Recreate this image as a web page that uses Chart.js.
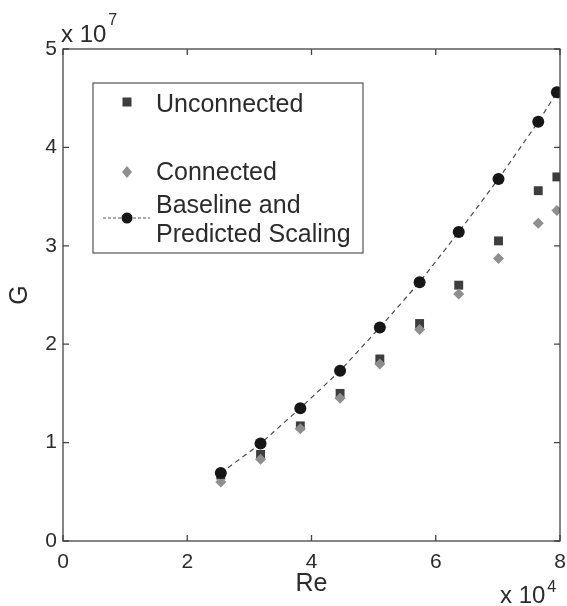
<!DOCTYPE html>
<html><head><meta charset="utf-8">
<script src="https://cdn.jsdelivr.net/npm/chart.js@4.4.1/dist/chart.umd.min.js"></script>
<style>html,body{margin:0;padding:0;background:#fff}#wrap{width:567px;height:606px;position:relative}</style>
</head><body><div id="wrap"><canvas id="c" width="567" height="606"></canvas></div>
<script>
// Re in units of 10^4, G in units of 10^7
const reValues    = [2.54, 3.18, 3.82, 4.46, 5.10, 5.74, 6.37, 7.01, 7.65, 7.95];
const unconnected = [0.67, 0.88, 1.17, 1.50, 1.85, 2.21, 2.60, 3.05, 3.56, 3.70];
const connected   = [0.60, 0.83, 1.14, 1.45, 1.80, 2.15, 2.51, 2.87, 3.23, 3.36];
const baseline    = [0.69, 0.99, 1.35, 1.73, 2.17, 2.63, 3.14, 3.68, 4.26, 4.56];
const xTicks = [0, 2, 4, 6, 8];
const yTicks = [0, 1, 2, 3, 4, 5];
const seriesNames = ['Unconnected', 'Connected', ['Baseline and', 'Predicted Scaling']];
const xTitle = 'Re', yTitle = 'G';
const xExp = '4', yExp = '7';

const TXT = '#2b2b2b';
const FONT = '"Liberation Sans", Arial, sans-serif';
const C_UN = '#3d3d3d', C_CO = '#8e8e8e', C_BA = '#161616';

const pts = ys => reValues.map((x, i) => ({x, y: ys[i]}));

const frame = {
  id: 'frame',
  afterDatasetsDraw(chart) {
    const {ctx, chartArea: a, scales: {x, y}} = chart;
    ctx.save();
    ctx.strokeStyle = '#444'; ctx.lineWidth = 1.3;
    ctx.strokeRect(a.left, a.top, a.right - a.left, a.bottom - a.top);
    ctx.beginPath();
    const L = 6;
    xTicks.forEach(v => { const p = x.getPixelForValue(v);
      ctx.moveTo(p, a.bottom); ctx.lineTo(p, a.bottom - L);
      ctx.moveTo(p, a.top); ctx.lineTo(p, a.top + L); });
    yTicks.forEach(v => { const p = y.getPixelForValue(v);
      ctx.moveTo(a.left, p); ctx.lineTo(a.left + L, p);
      ctx.moveTo(a.right, p); ctx.lineTo(a.right - L, p); });
    ctx.stroke();
    // exponent labels
    ctx.fillStyle = TXT; ctx.textBaseline = 'alphabetic'; ctx.textAlign = 'left';
    ctx.font = '24px ' + FONT;
    ctx.fillText('x 10', a.left - 2, a.top - 7);
    let w = ctx.measureText('x 10').width;
    ctx.font = '16px ' + FONT;
    ctx.fillText(yExp, a.left - 2 + w + 2, a.top - 24);
    ctx.font = '24px ' + FONT;
    ctx.fillText('x 10', a.right - 60, 603);
    w = ctx.measureText('x 10').width;
    ctx.font = '16px ' + FONT;
    ctx.fillText(xExp, a.right - 60 + w + 2, 592);

    // legend
    const bx = 93, by = 83, bw = 270, bh = 170;
    ctx.fillStyle = '#fff';
    ctx.fillRect(bx, by, bw, bh);
    ctx.strokeStyle = '#555'; ctx.lineWidth = 1.2;
    ctx.strokeRect(bx, by, bw, bh);
    const mx = 127, tx = 156;
    ctx.fillStyle = C_UN;
    ctx.fillRect(mx - 4.5, 102 - 4.5, 9, 9);
    ctx.fillStyle = C_CO;
    ctx.beginPath(); ctx.moveTo(mx, 172 - 6); ctx.lineTo(mx + 5, 172); ctx.lineTo(mx, 172 + 6); ctx.lineTo(mx - 5, 172); ctx.closePath(); ctx.fill();
    ctx.strokeStyle = '#555'; ctx.lineWidth = 1.2; ctx.setLineDash([3, 2]);
    ctx.beginPath(); ctx.moveTo(103, 218); ctx.lineTo(150, 218); ctx.stroke();
    ctx.setLineDash([]);
    ctx.fillStyle = C_BA;
    ctx.beginPath(); ctx.arc(mx, 218, 5.5, 0, Math.PI * 2); ctx.fill();
    ctx.fillStyle = TXT; ctx.font = '25px ' + FONT;
    ctx.fillText(seriesNames[0], tx, 112);
    ctx.fillText(seriesNames[1], tx, 180);
    ctx.fillText(seriesNames[2][0], tx, 213);
    ctx.fillText(seriesNames[2][1], tx, 242);
    ctx.restore();
  }
};

new Chart(document.getElementById('c'), {
  type: 'scatter',
  data: {
    datasets: [
      { label: 'Baseline and Predicted Scaling', data: pts(baseline), showLine: true, order: 0,
        borderColor: '#4a4a4a', borderWidth: 1.2, borderDash: [5, 4], tension: 0,
        pointStyle: 'circle', pointRadius: 6, pointBackgroundColor: C_BA, pointBorderColor: C_BA, pointBorderWidth: 0 },
      { label: 'Connected', data: pts(connected), order: 1,
        pointStyle: 'rectRot', pointRadius: 5.5, pointBackgroundColor: C_CO, pointBorderColor: C_CO, pointBorderWidth: 0 },
      { label: 'Unconnected', data: pts(unconnected), order: 2,
        pointStyle: 'rect', pointRadius: 6.3, pointBackgroundColor: C_UN, pointBorderColor: C_UN, pointBorderWidth: 0 }
    ]
  },
  options: {
    responsive: false, animation: false,
    layout: { padding: { top: 49, right: 7, left: 0, bottom: 0 } },
    plugins: { legend: { display: false }, tooltip: { enabled: false } },
    scales: {
      x: {
        type: 'linear', min: 0, max: 8,
        afterBuildTicks: s => { s.ticks = xTicks.map(v => ({value: v})); },
        afterFit: s => { s.height = 65; s.paddingLeft = 0; s.paddingRight = 0; },
        grid: { display: false, drawTicks: false }, border: { display: false },
        ticks: { padding: 9, color: TXT, font: { family: FONT, size: 21 }, maxRotation: 0 },
        title: { display: true, text: xTitle, color: TXT, font: { family: FONT, size: 25 }, padding: { top: 0, bottom: 7 } }
      },
      y: {
        type: 'linear', min: 0, max: 5,
        afterBuildTicks: s => { s.ticks = yTicks.map(v => ({value: v})); },
        afterFit: s => { s.width = 63; s.paddingTop = 0; s.paddingBottom = 0; },
        grid: { display: false, drawTicks: false }, border: { display: false },
        ticks: { padding: 6, color: TXT, font: { family: FONT, size: 21 } },
        title: { display: true, text: yTitle, color: TXT, font: { family: FONT, size: 25 }, padding: { top: 5, bottom: 0 } }
      }
    }
  },
  plugins: [frame]
});
</script>
</body></html>
